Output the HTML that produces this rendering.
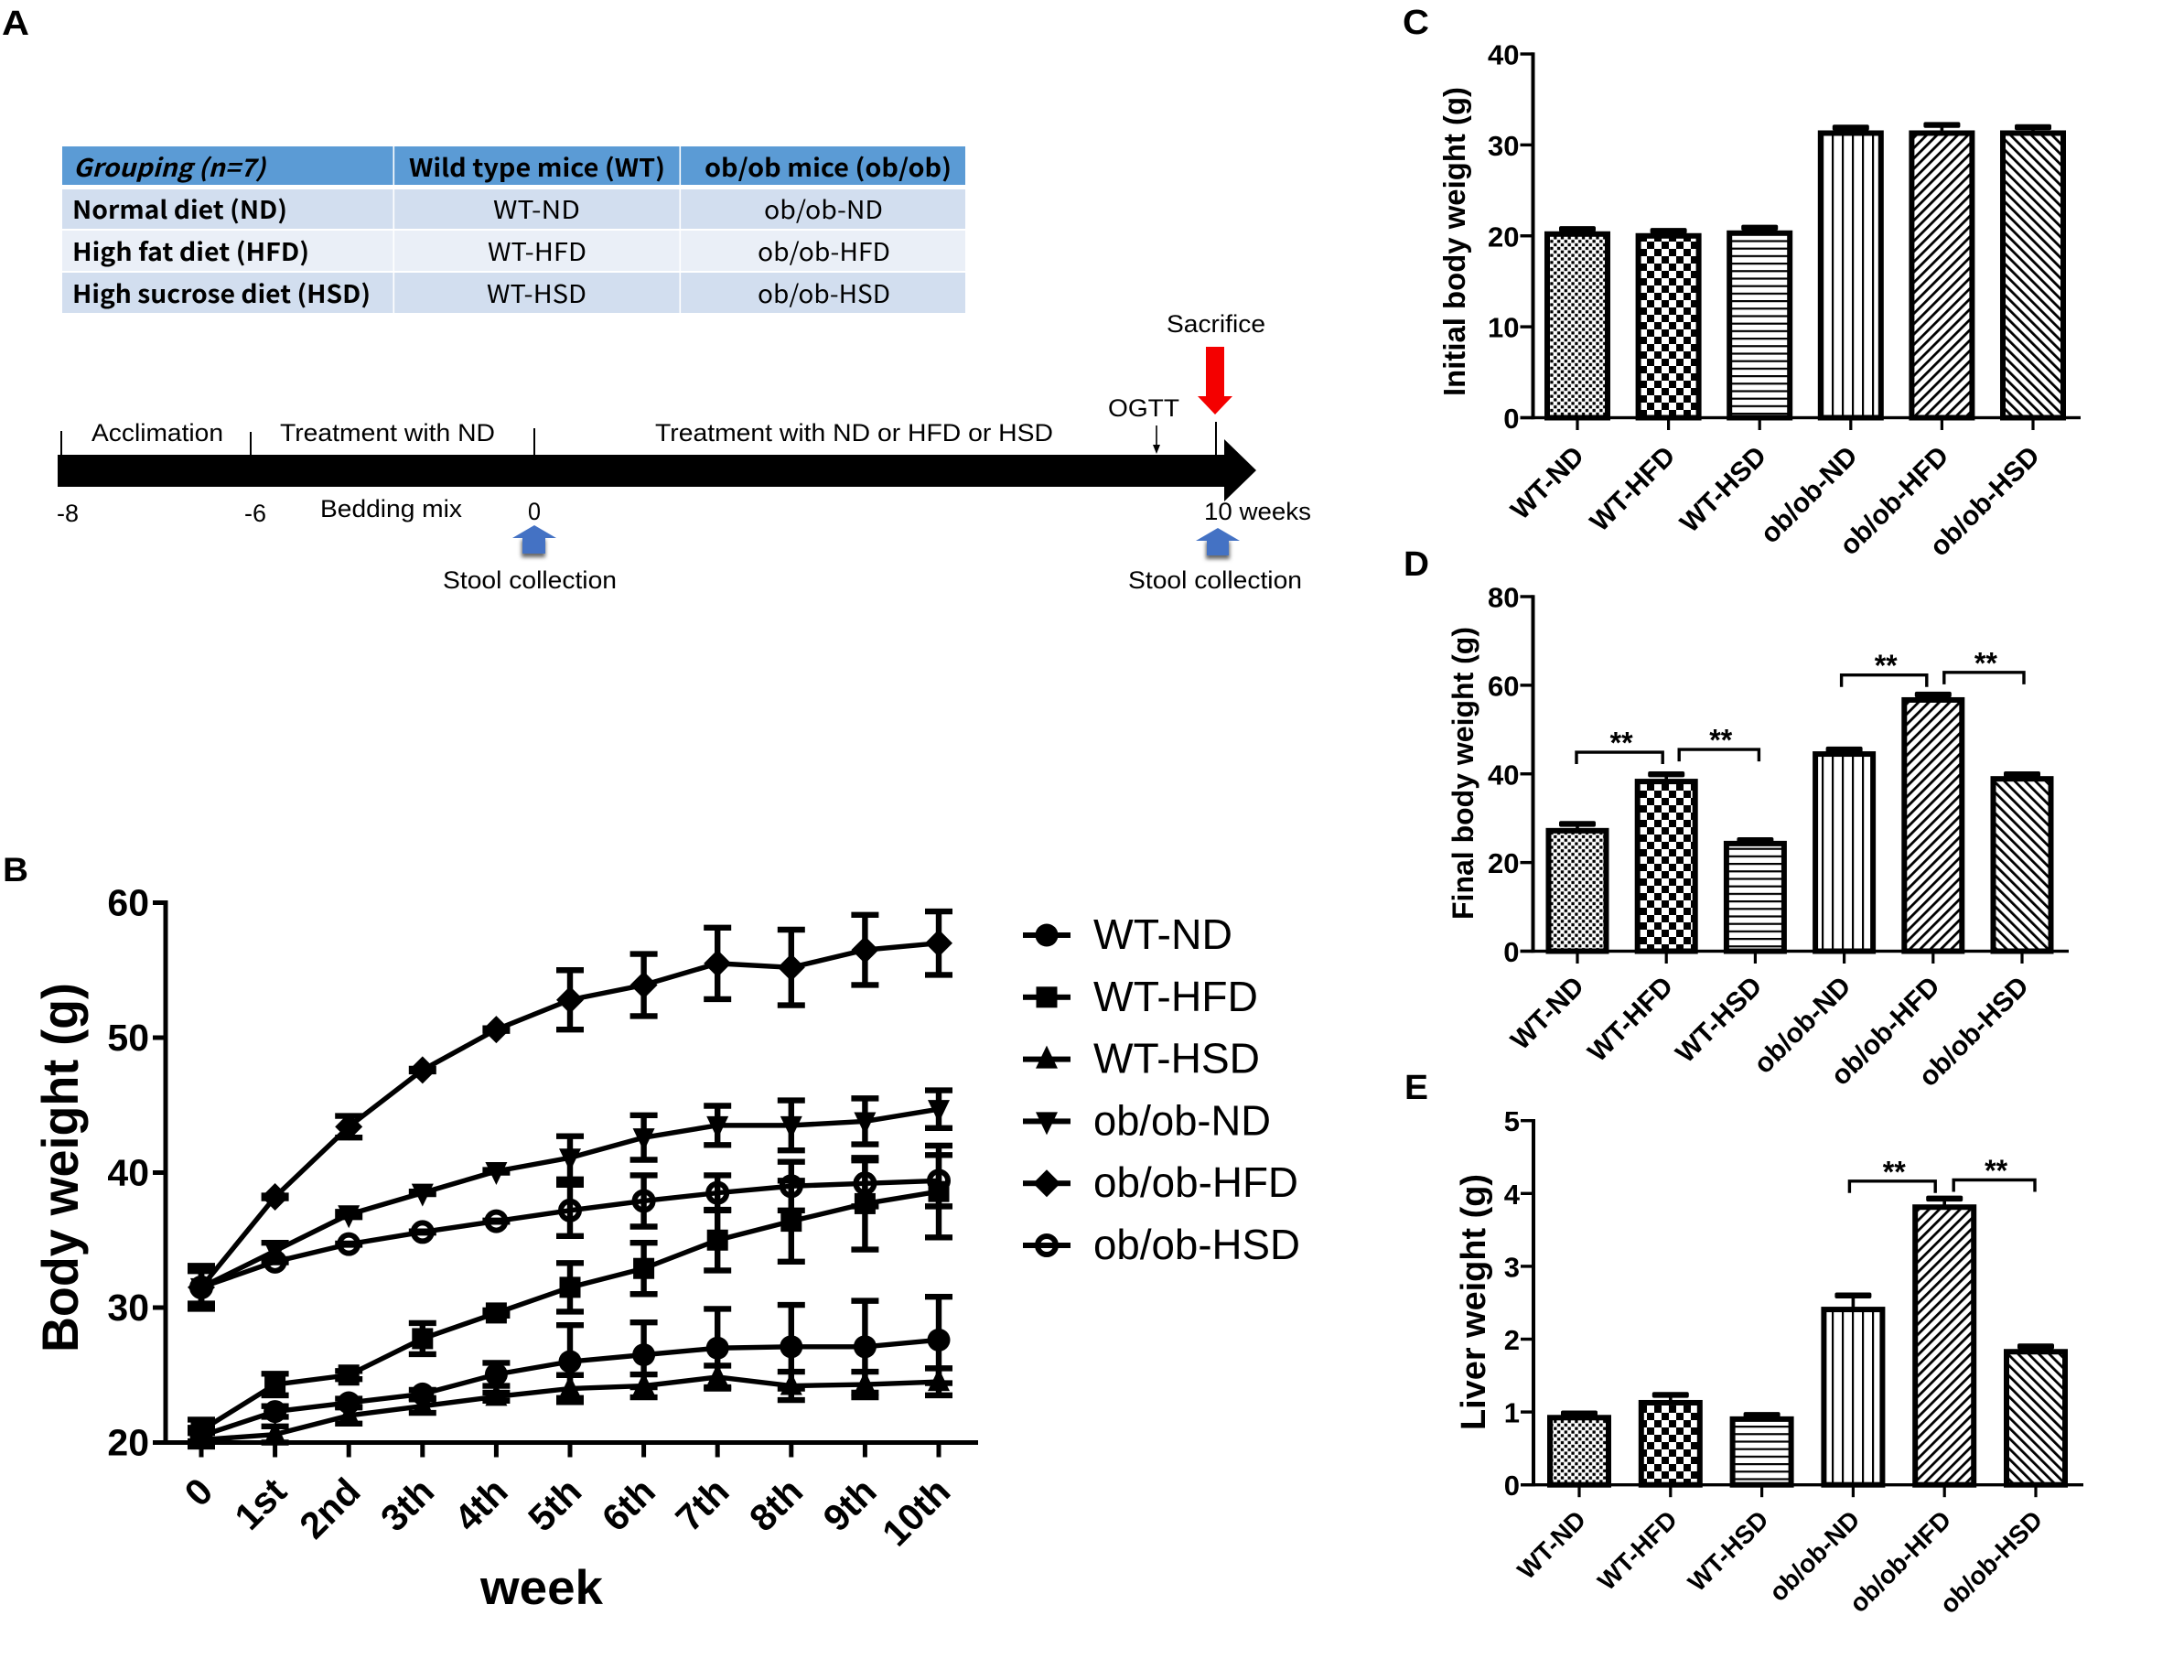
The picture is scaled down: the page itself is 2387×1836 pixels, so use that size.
<!DOCTYPE html>
<html lang="en">
<head>
<meta charset="utf-8">
<title>Experimental design and body and liver weight</title>
<style>
html,body{margin:0;padding:0;background:#fff;}
svg{display:block;}
text{font-family:"Liberation Sans","DejaVu Sans",sans-serif;fill:#000;}
.tb text{font-family:"Liberation Sans","Noto Sans CJK KR",sans-serif;}
.kr{font-family:"Noto Sans CJK KR","Liberation Sans",sans-serif !important;}
</style>
</head>
<body>
<svg id="fig" xmlns="http://www.w3.org/2000/svg" width="2387" height="1836" viewBox="0 0 2387 1836">
<defs>
  <pattern id="p-fine" patternUnits="userSpaceOnUse" width="7.7" height="7.7"><rect width="7.7" height="7.7" fill="#fff"/><rect x="0.3" y="0.3" width="3.3" height="3.3" fill="#000"/><rect x="4.15" y="4.15" width="3.3" height="3.3" fill="#000"/></pattern>
  <pattern id="p-check" patternUnits="userSpaceOnUse" width="16" height="16"><rect width="16" height="16" fill="#fff"/><rect width="8" height="8" fill="#000"/><rect x="8" y="8" width="8" height="8" fill="#000"/></pattern>
  <pattern id="p-horiz" patternUnits="userSpaceOnUse" width="10" height="8.2"><rect width="10" height="8.2" fill="#fff"/><rect width="10" height="2.2" fill="#000"/></pattern>
  <pattern id="p-vert" patternUnits="userSpaceOnUse" width="11" height="10"><rect width="11" height="10" fill="#fff"/><rect width="2.2" height="10" fill="#000"/></pattern>
  <pattern id="p-fwd" patternUnits="userSpaceOnUse" width="8" height="8" patternTransform="rotate(45)"><rect width="8" height="8" fill="#fff"/><rect width="2.8" height="8" fill="#000"/></pattern>
  <pattern id="p-back" patternUnits="userSpaceOnUse" width="8" height="8" patternTransform="rotate(-45)"><rect width="8" height="8" fill="#fff"/><rect width="2.8" height="8" fill="#000"/></pattern>
  <filter id="soft" x="-30%" y="-30%" width="160%" height="160%"><feGaussianBlur stdDeviation="2.2"/></filter>
</defs>

<rect width="2387" height="1836" fill="#fff"/>

<g font-weight="700">
  <text x="2" y="38" font-size="38" font-weight="700" textLength="30" lengthAdjust="spacingAndGlyphs">A</text>
  <text x="3" y="963" font-size="37" font-weight="700" textLength="28" lengthAdjust="spacingAndGlyphs">B</text>
  <text x="1533" y="37" font-size="38" font-weight="700" textLength="29" lengthAdjust="spacingAndGlyphs">C</text>
  <text x="1534" y="629" font-size="38" font-weight="700" textLength="28" lengthAdjust="spacingAndGlyphs">D</text>
  <text x="1535" y="1201" font-size="38" font-weight="700" textLength="26" lengthAdjust="spacingAndGlyphs">E</text>
</g>

<g class="tb">
  <rect x="68" y="160" width="987" height="42" fill="#5b9bd5"/>
  <rect x="68" y="207" width="987" height="43" fill="#d2deef"/>
  <rect x="68" y="252" width="987" height="44" fill="#eaeff7"/>
  <rect x="68" y="298" width="987" height="44" fill="#d2deef"/>
  <rect x="429.500" y="160" width="1.600" height="182" fill="#fff"/>
  <rect x="742.500" y="160" width="1.600" height="182" fill="#fff"/>

  <text class="kr" x="80" y="193" font-size="27" font-weight="700" font-style="italic" textLength="210" lengthAdjust="spacingAndGlyphs">Grouping (n=7)</text>
  <text class="kr" x="447" y="193" font-size="27" font-weight="700" textLength="280" lengthAdjust="spacingAndGlyphs">Wild type mice (WT)</text>
  <text class="kr" x="770" y="193" font-size="27" font-weight="700" textLength="270" lengthAdjust="spacingAndGlyphs">ob/ob mice (ob/ob)</text>

  <text class="kr" x="79" y="239" font-size="27" font-weight="700" textLength="235" lengthAdjust="spacingAndGlyphs">Normal diet (ND)</text>
  <text class="kr" x="79" y="285" font-size="27" font-weight="700" textLength="259" lengthAdjust="spacingAndGlyphs">High fat diet (HFD)</text>
  <text class="kr" x="79" y="331" font-size="27" font-weight="700" textLength="326" lengthAdjust="spacingAndGlyphs">High sucrose diet (HSD)</text>

  <text class="kr" x="539" y="239" font-size="27" textLength="95" lengthAdjust="spacingAndGlyphs">WT-ND</text>
  <text class="kr" x="533" y="285" font-size="27" textLength="108" lengthAdjust="spacingAndGlyphs">WT-HFD</text>
  <text class="kr" x="532" y="331" font-size="27" textLength="109" lengthAdjust="spacingAndGlyphs">WT-HSD</text>
  <text class="kr" x="835" y="239" font-size="27" textLength="130" lengthAdjust="spacingAndGlyphs">ob/ob-ND</text>
  <text class="kr" x="828" y="285" font-size="27" textLength="145" lengthAdjust="spacingAndGlyphs">ob/ob-HFD</text>
  <text class="kr" x="828" y="331" font-size="27" textLength="145" lengthAdjust="spacingAndGlyphs">ob/ob-HSD</text>
</g>

<g>
  <polygon points="63,497 1338,497 1338,480 1373,514 1338,548 1338,532 63,532" fill="#000"/>
  <rect x="66" y="471" width="2" height="26" fill="#000"/>
  <rect x="273" y="472" width="2" height="25" fill="#000"/>
  <rect x="583" y="468" width="2" height="29" fill="#000"/>
  <rect x="1328" y="461" width="2" height="36" fill="#000"/>

  <text x="100" y="482" font-size="27" textLength="144" lengthAdjust="spacingAndGlyphs">Acclimation</text>
  <text x="306" y="482" font-size="27" textLength="235" lengthAdjust="spacingAndGlyphs">Treatment with ND</text>
  <text x="716" y="482" font-size="27" textLength="435" lengthAdjust="spacingAndGlyphs">Treatment with ND or HFD or HSD</text>

  <text x="1211" y="455" font-size="27" textLength="78" lengthAdjust="spacingAndGlyphs">OGTT</text>
  <rect x="1263.200" y="465" width="1.600" height="24" fill="#000"/>
  <polygon points="1260,486 1268,486 1264,496" fill="#000"/>

  <text x="1275" y="363" font-size="27" textLength="108" lengthAdjust="spacingAndGlyphs">Sacrifice</text>
  <polygon points="1318,379 1338,379 1338,433 1347,433 1328,453 1309,433 1318,433" fill="#f40000"/>

  <text x="62" y="570" font-size="27" textLength="24" lengthAdjust="spacingAndGlyphs">-8</text>
  <text x="267" y="570" font-size="27" textLength="24" lengthAdjust="spacingAndGlyphs">-6</text>
  <text x="350" y="565" font-size="27" textLength="155" lengthAdjust="spacingAndGlyphs">Bedding mix</text>
  <text x="577" y="568" font-size="27" textLength="14" lengthAdjust="spacingAndGlyphs">0</text>
  <text x="1316" y="568" font-size="27" textLength="117" lengthAdjust="spacingAndGlyphs">10 weeks</text>

  <polygon points="570,590 596,590 596,609 570,609" fill="#666" filter="url(#soft)"/>
  <polygon points="584,574 608,588 596,588 596,605 571,605 571,588 560,588" fill="#4472c4"/>
  <polygon points="1318,592 1344,592 1344,611 1318,611" fill="#666" filter="url(#soft)"/>
  <polygon points="1331,577 1355,591 1343,591 1343,607 1319,607 1319,591 1307,591" fill="#4472c4"/>
  <text x="484" y="643" font-size="27" textLength="190" lengthAdjust="spacingAndGlyphs">Stool collection</text>
  <text x="1233" y="643" font-size="27" textLength="190" lengthAdjust="spacingAndGlyphs">Stool collection</text>
</g>

<g id="panel-b"></g>
<g id="panel-c"></g>
<g id="panel-d"></g>
<g id="panel-e"></g>
</svg>

<script>
// ---- Panel B data ----
const weekLabels = ['0','1st','2nd','3th','4th','5th','6th','7th','8th','9th','10th'];
const seriesNames = ['WT-ND','WT-HFD','WT-HSD','ob/ob-ND','ob/ob-HFD','ob/ob-HSD'];
const bodyTicks = [20,30,40,50,60];
const wtNdMean  = [20.5,22.3,22.95,23.6,25.05,26.0,26.5,27.0,27.1,27.1,27.6];
const wtNdErr   = [0.6,0.4,0.3,0.3,0.85,2.7,2.4,2.9,3.1,3.4,3.2];
const wtHfdMean = [20.9,24.3,25.0,27.7,29.6,31.5,32.9,35.0,36.4,37.7,38.6];
const wtHfdErr  = [0.8,0.8,0.3,1.15,0.2,1.8,1.9,2.25,3.0,3.4,3.4];
const wtHsdMean = [20.2,20.6,22.0,22.7,23.4,24.0,24.2,24.85,24.2,24.3,24.5];
const wtHsdErr  = [0.5,0.6,0.6,0.5,0.3,1.0,0.85,0.85,1.05,0.95,1.0];
const obNdMean  = [31.5,34.2,36.9,38.5,40.1,41.1,42.6,43.5,43.5,43.8,44.7];
const obNdErr   = [1.4,0.6,0.2,0.1,0.1,1.6,1.65,1.45,1.85,1.7,1.4];
const obHfdMean = [31.5,38.2,43.4,47.6,50.6,52.8,53.9,55.5,55.2,56.5,57.0];
const obHfdErr  = [1.6,0.1,0.8,0.1,0.1,2.2,2.3,2.65,2.8,2.6,2.35];
const obHsdMean = [31.5,33.4,34.7,35.6,36.4,37.2,37.9,38.5,39.0,39.2,39.4];
const obHsdErr  = [1.2,0.05,0.05,0.05,0.05,1.9,1.9,1.3,1.8,1.7,1.9];

// ---- Panels C, D, E data ----
const groupLabels = ['WT-ND','WT-HFD','WT-HSD','ob/ob-ND','ob/ob-HFD','ob/ob-HSD'];
const initialTicks = [0,10,20,30,40];
const initialMeans = [20.5,20.3,20.6,31.6,31.6,31.6];
const initialErrs  = [0.25,0.25,0.3,0.3,0.6,0.35];
const finalTicks = [0,20,40,60,80];
const finalMeans = [27.8,38.9,24.9,45.1,57.3,39.5];
const finalErrs  = [0.9,1.0,0.15,0.4,0.6,0.4];
const liverTicks = [0,1,2,3,4,5];
const liverMeans = [0.96,1.165,0.94,2.445,3.85,1.865];
const liverErrs  = [0.02,0.07,0.02,0.155,0.08,0.035];

const SVGNS = 'http://www.w3.org/2000/svg';
function make(parent, tag, attrs, content) {
  const el = document.createElementNS(SVGNS, tag);
  for (const k in attrs) el.setAttribute(k, attrs[k]);
  if (content !== undefined) el.textContent = content;
  parent.appendChild(el);
  return el;
}

// Marker glyphs shared by the plot and its legend
function drawMarker(parent, kind, x, y) {
  let el;
  if (kind === 'circle') {
    el = make(parent, 'circle', {cx:x, cy:y, r:12.5, fill:'#000'});
  } else if (kind === 'square') {
    el = make(parent, 'rect', {x:x-11.5, y:y-11.5, width:23, height:23, fill:'#000'});
  } else if (kind === 'triangle') {
    el = make(parent, 'polygon', {points:[x,y-15,x+12,y+10,x-12,y+10].join(' '), fill:'#000'});
  } else if (kind === 'invtriangle') {
    el = make(parent, 'polygon', {points:[x,y+15,x+12,y-10,x-12,y-10].join(' '), fill:'#000'});
  } else if (kind === 'diamond') {
    el = make(parent, 'polygon', {points:[x,y-15,x+15,y,x,y+15,x-15,y].join(' '), fill:'#000'});
  } else {
    el = make(parent, 'circle', {cx:x, cy:y, r:10, fill:'none', stroke:'#000', 'stroke-width':6});
  }
  
  
  return el;
}

// ---------- Panel B: line chart ----------
const lineMeans = [wtNdMean, wtHfdMean, wtHsdMean, obNdMean, obHfdMean, obHsdMean];
const lineErrs = [wtNdErr, wtHfdErr, wtHsdErr, obNdErr, obHfdErr, obHsdErr];
const markerKinds = ['circle','square','triangle','invtriangle','diamond','hollow'];

function xBody(i) { return 220 + i * 80.6; }
function yBody(v) { return 1576.5 - (v - 20) * 14.75; }

(function drawBody() {
  const g = document.getElementById('panel-b');

  seriesNames.forEach(function (name, s) {
    const sg = make(g, 'g', {});
    
    

    const means = lineMeans[s];
    const errs = lineErrs[s];
    const pts = means.map(function (v, i) { return xBody(i) + ',' + yBody(v); }).join(' ');
    const line = make(sg, 'polyline', {points:pts, fill:'none', stroke:'#000', 'stroke-width':5.4, 'stroke-linejoin':'round'});
    
    

    means.forEach(function (v, i) {
      const x = xBody(i);
      const hi = yBody(v + errs[i]);
      const lo = yBody(v - errs[i]);
      const d = 'M' + x + ' ' + hi + 'V' + lo + 'M' + (x - 15) + ' ' + hi + 'H' + (x + 15) + 'M' + (x - 15) + ' ' + lo + 'H' + (x + 15);
      const err = make(sg, 'path', {d:d, fill:'none', stroke:'#000', 'stroke-width':6.4});
      
      
      drawMarker(sg, markerKinds[s], x, yBody(v));
    });
  });

  const yAxis = make(g, 'rect', {x:178.5, y:yBody(60) - 2.5, width:5, height:yBody(20) - yBody(60) + 5, fill:'#000'});
  
  

  const xAxis = make(g, 'rect', {x:167, y:yBody(20) - 2.5, width:902, height:5, fill:'#000'});
  
  

  bodyTicks.forEach(function (t) {
    const tick = make(g, 'rect', {x:167, y:yBody(t) - 2.5, width:14, height:5, fill:'#000'});
    
    
    const label = make(g, 'text', {x:163, y:yBody(t) + 14, 'font-size':41, 'font-weight':700, 'text-anchor':'end'}, String(t));
    
    
  });

  weekLabels.forEach(function (w, i) {
    const x = xBody(i);
    const tick = make(g, 'rect', {x:x - 2.5, y:yBody(20), width:5, height:16, fill:'#000'});
    
    
    const px = x + 15;
    const py = yBody(20) + 56;
    const label = make(g, 'text', {x:px, y:py, 'font-size':41, 'font-weight':700, 'text-anchor':'end', transform:'rotate(-45 ' + px + ' ' + py + ')'}, w);
    
    
  });

  const yTitle = make(g, 'text', {x:0, y:0, 'font-size':56, 'font-weight':700, textLength:404, lengthAdjust:'spacingAndGlyphs', transform:'translate(85 1478) rotate(-90)'}, 'Body weight (g)');
  
  

  const xTitle = make(g, 'text', {x:525, y:1753, 'font-size':53, 'font-weight':700, textLength:134, lengthAdjust:'spacingAndGlyphs'}, 'week');
  
  

  // Legend
  const legendWidths = [152,180,182,194,224,226];
  seriesNames.forEach(function (name, s) {
    const rowY = 1022 + s * 67.8;
    const lg = make(g, 'g', {});
    
    
    const swatch = make(lg, 'rect', {x:1118, y:rowY - 3, width:52, height:6, fill:'#000'});
    
    
    drawMarker(lg, markerKinds[s], 1144, rowY);
    const label = make(lg, 'text', {x:1195, y:rowY + 15, 'font-size':46, textLength:legendWidths[s], lengthAdjust:'spacingAndGlyphs'}, name);
    
    
  });
})();

// ---------- Panels C, D, E: bar charts ----------
const barPatterns = ['p-fine','p-check','p-horiz','p-vert','p-fwd','p-back'];

function barPanel(cfg) {
  const g = document.getElementById(cfg.id);
  const top = cfg.ticks[cfg.ticks.length - 1];
  cfg.y = function (v) { return cfg.y0 - v * (cfg.y0 - cfg.yTop) / top; };
  cfg.x = function (i) { return cfg.x0 + i * cfg.step; };
  const sw = 6;

  cfg.means.forEach(function (v, i) {
    const x = cfg.x(i);
    const y = cfg.y(v);
    const eTop = cfg.y(v + cfg.errs[i]);

    const stem = make(g, 'rect', {x:x - 1.8, y:eTop, width:3.6, height:y - eTop + 2, fill:'#000'});
    
    

    const cap = make(g, 'rect', {x:x - 20, y:eTop - 3.2, width:40, height:6.4, rx:2, fill:'#000'});
    
    

    const bar = make(g, 'rect', {x:x - cfg.barW / 2 + sw / 2, y:y + sw / 2, width:cfg.barW - sw, height:cfg.y(0) - y - sw / 2, fill:'url(#' + barPatterns[i] + ')', stroke:'#000', 'stroke-width':sw});
    
    
  });

  const yAxis = make(g, 'rect', {x:cfg.axisX - 2, y:cfg.yTop - 1.7, width:4, height:cfg.y0 - cfg.yTop + 3.4, fill:'#000'});
  
  

  const xAxis = make(g, 'rect', {x:cfg.axisX - 14, y:cfg.y0 - 1.7, width:cfg.xEnd - cfg.axisX + 14, height:3.4, fill:'#000'});
  
  

  cfg.ticks.forEach(function (t) {
    const tick = make(g, 'rect', {x:cfg.axisX - 14, y:cfg.y(t) - 1.7, width:14, height:3.4, fill:'#000'});
    
    
    const label = make(g, 'text', {x:cfg.axisX - 15, y:cfg.y(t) + 11.5, 'font-size':31, 'font-weight':700, 'text-anchor':'end'}, String(t));
    
    
  });

  groupLabels.forEach(function (name, i) {
    const x = cfg.x(i);
    const tick = make(g, 'rect', {x:x - 1.6, y:cfg.y0, width:3.2, height:13.5, fill:'#000'});
    
    
    const px = x + 9;
    const py = cfg.y0 + cfg.labelDrop;
    const label = make(g, 'text', {x:px, y:py, 'font-size':cfg.labelSize, 'font-weight':700, 'text-anchor':'end', transform:'rotate(-45 ' + px + ' ' + py + ')'}, name);
    
    
  });

  const title = make(g, 'text', {x:0, y:0, 'font-size':cfg.titleSize, 'font-weight':700, textLength:cfg.titleLen, lengthAdjust:'spacingAndGlyphs', transform:'translate(' + cfg.titleX + ' ' + cfg.titleY + ') rotate(-90)'}, cfg.title);
  
  
  return cfg;
}

function bracket(cfg, a, aOff, b, bOff, level) {
  const g = document.getElementById(cfg.id);
  const x1 = cfg.x(a) + aOff;
  const x2 = cfg.x(b) + bOff;
  const y = cfg.y(level);
  const path = make(g, 'path', {d:'M' + x1 + ' ' + (y + 13) + 'V' + y + 'H' + x2 + 'V' + (y + 13), fill:'none', stroke:'#000', 'stroke-width':3.4});
  
  
  const stars = make(g, 'text', {x:(x1 + x2) / 2 + 2, y:y + 1, 'font-size':33, 'font-weight':700, 'text-anchor':'middle', textLength:25, lengthAdjust:'spacingAndGlyphs'}, '**');
  
  
}

barPanel({id:'panel-c', means:initialMeans, errs:initialErrs, ticks:initialTicks, y0:456.5, yTop:59, x0:1724, step:99.6, barW:72, axisX:1675.5, xEnd:2274, labelSize:30, labelDrop:43.5, title:'Initial body weight (g)', titleSize:33, titleLen:338, titleX:1601, titleY:433});

const panelD = barPanel({id:'panel-d', means:finalMeans, errs:finalErrs, ticks:finalTicks, y0:1039.5, yTop:652, x0:1724, step:97.2, barW:69, axisX:1675.5, xEnd:2261, labelSize:30, labelDrop:40, title:'Final body weight (g)', titleSize:32, titleLen:320, titleX:1610, titleY:1005});
bracket(panelD, 0, -1, 1, -4, 44.9);
bracket(panelD, 1, 14, 2, 4, 45.5);
bracket(panelD, 3, -3, 4, -7, 62.3);
bracket(panelD, 4, 12, 5, 2, 62.9);

const panelE = barPanel({id:'panel-e', means:liverMeans, errs:liverErrs, ticks:liverTicks, y0:1622.7, yTop:1224.7, x0:1726, step:99.8, barW:70, axisX:1676, xEnd:2277, labelSize:28, labelDrop:40, title:'Liver weight (g)', titleSize:38, titleLen:280, titleX:1623, titleY:1563});
bracket(panelE, 3, -4, 4, -10, 4.17);
bracket(panelE, 4, 10, 5, -1, 4.186);
</script>
</body>
</html>
